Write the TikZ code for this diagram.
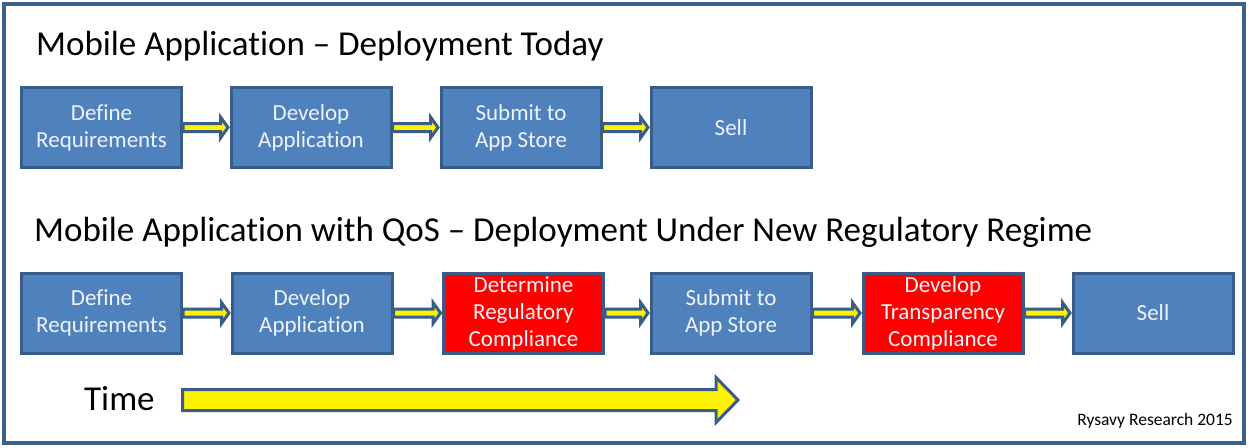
\documentclass[tikz,border=0pt]{standalone}
\usepackage{fontspec}
\setmainfont{Carlito}[Ligatures=NoCommon]
\usetikzlibrary{calc}
\definecolor{boxblue}{HTML}{4F81BD}
\definecolor{edgeblue}{HTML}{385D8A}
\definecolor{frameblue}{HTML}{3B6090}
\definecolor{boxtext}{HTML}{EEF3FA}
\tikzset{
  stepbox/.style={draw=edgeblue, line width=3pt, fill=boxblue, text=boxtext,
    minimum width=160pt, minimum height=80pt, inner sep=0pt, align=center,
    font=\fontsize{23}{27}\selectfont},
  redbox/.style={stepbox, fill=red},
  heading/.style={anchor=base west, inner sep=0pt, font=\fontsize{35}{42}\selectfont},
  flow/.style={fill=yellow, draw=edgeblue, line width=3pt, line join=miter},
}
% yellow block arrow between two boxes
\newcommand\flowarrow[2]{%
  \filldraw[flow] let \p1=(#1.east), \p2=(#2.west) in
    (\x1,\y1+4pt) -- (\x2-9pt,\y1+4pt) -- (\x2-9pt,\y1+10.5pt) -- (\x2-1.5pt,\y1)
    -- (\x2-9pt,\y1-10.5pt) -- (\x2-9pt,\y1-4pt) -- (\x1,\y1-4pt) -- cycle;}
\begin{document}
\begin{tikzpicture}[x=1pt, y=-1pt]
\useasboundingbox (0,0) rectangle (1249,447);
\fill[white] (0,0) rectangle (1249,447);
\draw[frameblue, line width=4pt] (4,4) rectangle (1244,443);

\node[heading] (t1) at (36,55) {Mobile Application – Deployment Today};
\node[heading] (t2) at (34,241) {Mobile Application with QoS – Deployment Under New Regulatory Regime};

% current process
\node[stepbox] (a1) at (101.5,127.5) {Define\\Requirements};
\node[stepbox] (a2) at (311,127.5) {Develop\\Application};
\node[stepbox] (a3) at (521,127.5) {Submit to\\App Store};
\node[stepbox] (a4) at (731,127.5) {Sell};
\flowarrow{a1}{a2}
\flowarrow{a2}{a3}
\flowarrow{a3}{a4}

% process under the new regime
\node[stepbox] (b1) at (101.5,313) {Define\\Requirements};
\node[stepbox] (b2) at (312,313) {Develop\\Application};
\node[redbox]  (b3) at (523.5,313) {Determine\\Regulatory\\Compliance};
\node[stepbox] (b4) at (731,313) {Submit to\\App Store};
\node[redbox]  (b5) at (943,313) {Develop\\Transparency\\Compliance};
\node[stepbox] (b6) at (1153,313) {Sell};
\flowarrow{b1}{b2}
\flowarrow{b2}{b3}
\flowarrow{b3}{b4}
\flowarrow{b4}{b5}
\flowarrow{b5}{b6}

% time axis
\node[heading] (time) at (84,410) {Time};
\coordinate (ts) at (182.5,400);
\coordinate (te) at (738,400);
\filldraw[flow] ($(ts)+(0,-10.5)$) -- ($(te)+(-22,-10.5)$) -- ($(te)+(-22,-22.5)$) -- (te)
  -- ($(te)+(-22,22.5)$) -- ($(te)+(-22,10.5)$) -- ($(ts)+(0,10.5)$) -- cycle;

\node[anchor=base east, inner sep=0pt, font=\fontsize{17.5}{21}\selectfont] (credit) at (1233,425) {Rysavy Research 2015};
\end{tikzpicture}
\end{document}
